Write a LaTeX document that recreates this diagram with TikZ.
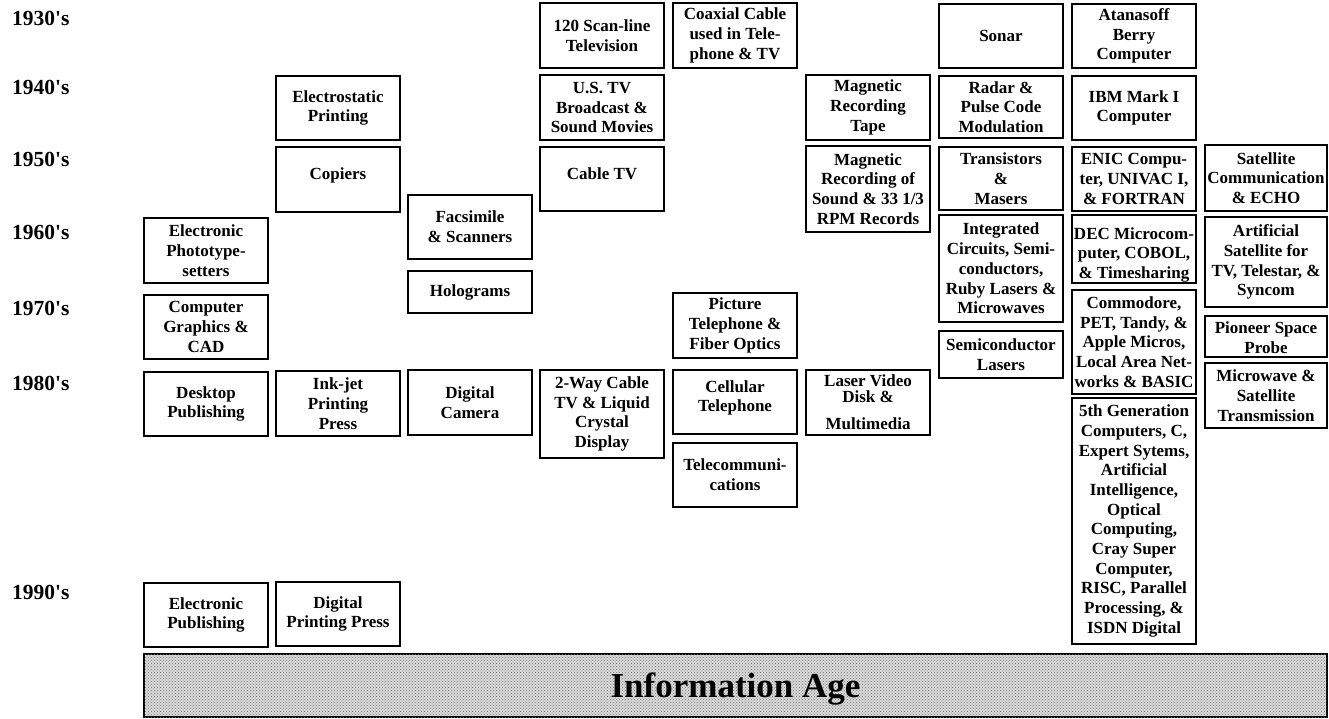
\documentclass[tikz,border=0pt]{standalone}
\usepackage{fontspec}
\setmainfont{Liberation Serif}
\usetikzlibrary{patterns}
\tikzset{
  evt/.style={draw=black, line width=2pt, fill=white, minimum width=124pt,
    inner sep=0pt, align=center, font=\fontsize{17}{19.7}\selectfont\bfseries},
  decade/.style={anchor=west, inner sep=0pt, font=\fontsize{21.5}{24}\selectfont\bfseries},
  agebar/.style={draw=black, line width=2pt, inner sep=0pt, text depth=0pt, fill=black!15,
    postaction={pattern=crosshatch dots, pattern color=black!55},
    font=\fontsize{35}{38}\selectfont\bfseries},
}
% left edges of the columns
\def\colA{144}\def\colB{276}\def\colC{408}\def\colD{540}\def\colE{673}
\def\colF{806}\def\colG{939}\def\colH{1072}
% \evbox{name}{left edge}{top}{bottom}{text}
\newcommand{\evbox}[5]{%
  \node[evt, minimum height={#4-#3}] (#1) at ({#2+62},{(#3+#4)/2}) {#5};}
\begin{document}
\begin{tikzpicture}[x=1pt,y=-1pt]
\useasboundingbox (0,0) rectangle (1329,719);

% decades
\node[decade] (d30) at (12,18)  {1930\textquotesingle s};
\node[decade] (d40) at (12,87)  {1940\textquotesingle s};
\node[decade] (d50) at (12,159) {1950\textquotesingle s};
\node[decade] (d60) at (12,232) {1960\textquotesingle s};
\node[decade] (d70) at (12,308) {1970\textquotesingle s};
\node[decade] (d80) at (12,383) {1980\textquotesingle s};
\node[decade] (d90) at (12,592) {1990\textquotesingle s};

% publishing
\evbox{eps}{\colA}{218}{283}{Electronic\\Phototype-\\setters}
\evbox{cgc}{\colA}{295}{359}{Computer\\Graphics \&\\CAD}
\evbox{dtp}{\colA}{372}{436}{Desktop\\Publishing}
\evbox{epub}{\colA}{583}{647}{Electronic\\Publishing}

% printing
\evbox{esp}{\colB}{76}{140}{Electrostatic\\Printing}
\evbox{cop}{\colB}{147}{212}{Copiers\\[-8pt]\mbox{}}
\evbox{ink}{\colB}{371}{436}{Ink-jet\\Printing\\Press}
\evbox{dpp}{\colB}{582}{646}{Digital\\Printing Press}

% imaging
\evbox{fax}{\colC}{195}{259}{Facsimile\\\& Scanners}
\evbox{holo}{\colC}{271}{313}{Holograms}
\evbox{dcam}{\colC}{370}{435}{Digital\\Camera}

% television
\evbox{scan}{\colD}{3}{68}{120 Scan-line\\Television}
\evbox{ustv}{\colD}{75}{140}{U.S. TV\\Broadcast \&\\Sound Movies}
\evbox{catv}{\colD}{147}{211}{Cable TV\\[-8pt]\mbox{}}
\evbox{twoway}{\colD}{370}{458}{2-Way Cable\\TV \& Liquid\\Crystal\\Display}

% telephone
\evbox{coax}{\colE}{3}{68}{Coaxial Cable\\used in Tele-\\phone \& TV}
\evbox{pic}{\colE}{293}{358}{Picture\\Telephone \&\\Fiber Optics}
\evbox{cell}{\colE}{370}{434}{Cellular\\Telephone\\[-8pt]\mbox{}}
\evbox{tele}{\colE}{443}{507}{Telecommuni-\\cations}

% recording
\evbox{magt}{\colF}{75}{140}{Magnetic\\Recording\\Tape}
\evbox{mags}{\colF}{146}{232}{Magnetic\\Recording of\\Sound \& 33 1/3\\RPM Records}
\evbox{laser}{\colF}{370}{435}{Laser Video\\[-4.5pt]Disk \&\\[8pt]Multimedia}

% electronics
\evbox{sonar}{\colG}{4}{68}{Sonar}
\evbox{radar}{\colG}{76}{138}{Radar \&\\Pulse Code\\Modulation}
\evbox{trans}{\colG}{147}{210}{Transistors\\\&\\Masers}
\evbox{ic}{\colG}{215}{322}{Integrated\\Circuits, Semi-\\conductors,\\Ruby Lasers \&\\Microwaves}
\evbox{semi}{\colG}{331}{378}{Semiconductor\\Lasers}

% computing
\evbox{abc}{\colH}{4}{68}{Atanasoff\\Berry\\Computer}
\evbox{ibm}{\colH}{76}{140}{IBM Mark I\\Computer}
\evbox{enic}{\colH}{147}{211}{ENIC Compu-\\ter, UNIVAC I,\\\& FORTRAN}
\evbox{dec}{\colH}{215}{283}{\mbox{}\\[4pt]DEC Microcom-\\puter, COBOL,\\\& Timesharing}
\evbox{comm}{\colH}{290}{394}{Commodore,\\PET, Tandy, \&\\Apple Micros,\\Local Area Net-\\works \& BASIC}
\evbox{gen}{\colH}{398}{644}{5th Generation\\Computers, C,\\Expert Sytems,\\Artificial\\Intelligence,\\Optical\\Computing,\\Cray Super\\Computer,\\RISC, Parallel\\Processing, \&\\ISDN Digital}

% satellites (last column, slightly narrower)
\node[evt, minimum width=122pt, minimum height=66] (satc) at (1266,178) {Satellite\\Communication\\\& ECHO};
\node[evt, minimum width=122pt, minimum height=90] (arts) at (1266,262) {Artificial\\Satellite for\\TV, Telestar, \&\\Syncom};
\node[evt, minimum width=122pt, minimum height=41] (pion) at (1266,336.5) {\mbox{}\\[-5pt]Pioneer Space\\Probe};
\node[evt, minimum width=122pt, minimum height=65] (micro) at (1266,395.5) {Microwave \&\\Satellite\\Transmission};

% era bar
\node[agebar, minimum width=1183pt, minimum height=63pt] (age) at (735.5,685.5) {Information Age};
\end{tikzpicture}
\end{document}
